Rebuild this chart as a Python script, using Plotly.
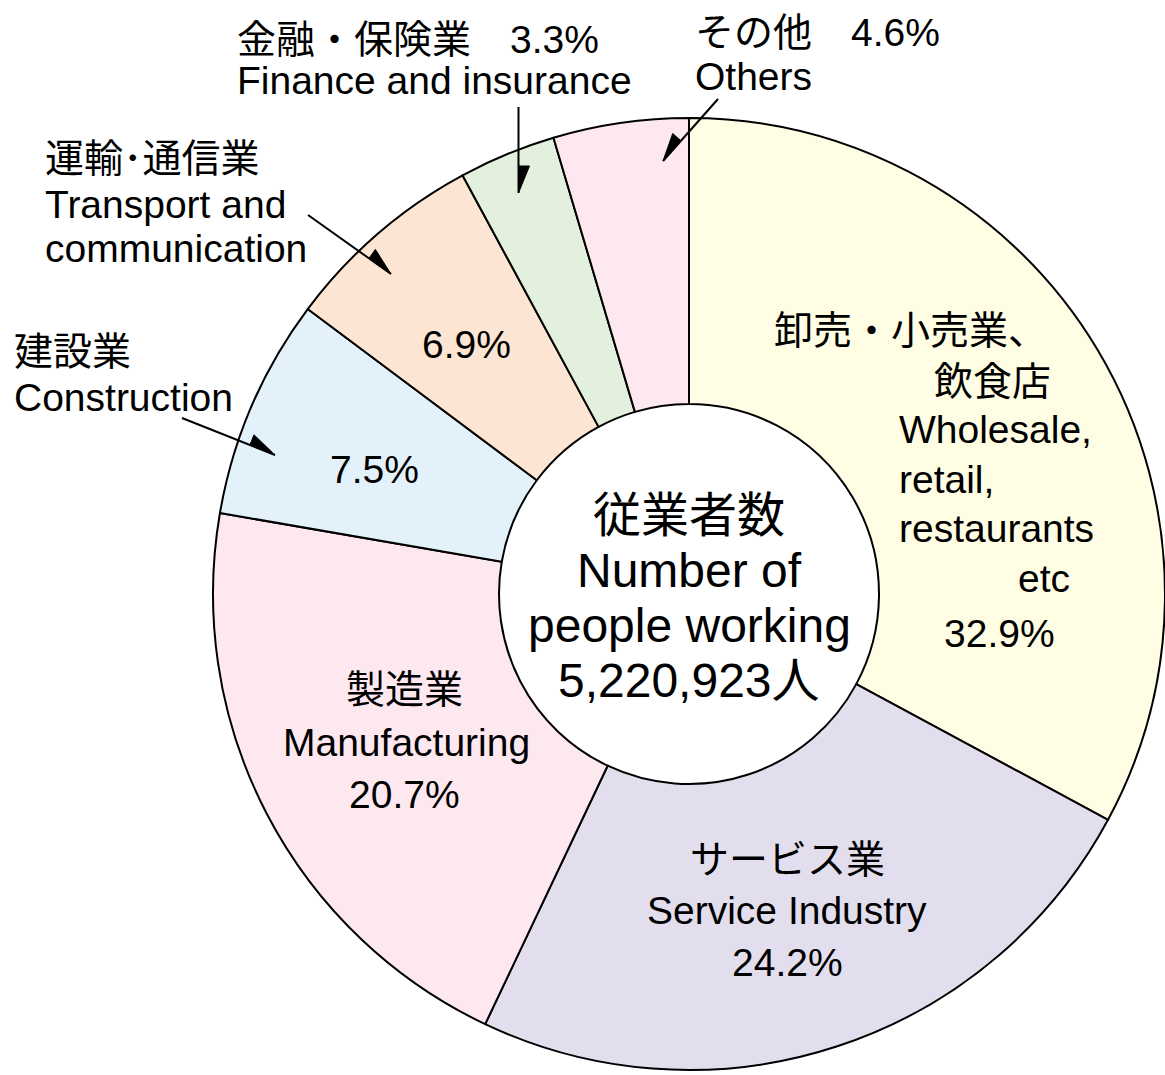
import math
import plotly.graph_objects as go

W, H = 1165, 1075

# ---- data ----
sectors_jp = ["卸売・小売業、飲食店", "サービス業", "製造業", "建設業", "運輸･通信業", "金融・保険業", "その他"]
sectors_en = ["Wholesale, retail, restaurants etc", "Service Industry", "Manufacturing",
              "Construction", "Transport and communication", "Finance and insurance", "Others"]
shares = [32.9, 24.2, 20.7, 7.5, 6.9, 3.3, 4.6]
colors = ["#FFFDE3", "#E3DEEE", "#FDE8F0", "#E3F1FB", "#FCE6D3", "#E3F0DE", "#FDE8F0"]
total_workers = "5,220,923"

FONT = "Liberation Sans, Arial, Noto Sans CJK JP, sans-serif"

# pie geometry (pixels)
CX, CY, R = 689, 594, 476
HOLE_R = 190

fig = go.Figure(go.Pie(
    labels=sectors_en, values=shares, sort=False, direction="clockwise", rotation=0,
    marker=dict(colors=colors, line=dict(color="black", width=2)),
    textinfo="none", hoverinfo="skip", hole=HOLE_R / R,
    domain=dict(x=[(CX - R) / W, min(1.0, (CX + R) / W)],
                y=[((H - CY) - R) / H, ((H - CY) + R) / H]),
))

def px(x):
    return x / W

def py(y):
    return 1 - y / H

pct = [f"{v:.1f}%" for v in shares]

# (text, x, y_middle, xanchor, size)
lines = [
    (f"{sectors_jp[5]}　{pct[5]}", 235, 39, "left", 39),
    (sectors_en[5], 235, 80.5, "left", 39),
    (f"{sectors_jp[6]}　{pct[6]}", 693, 33, "left", 39),
    (sectors_en[6], 693, 76.5, "left", 39),
    (sectors_jp[4], 43, 158, "left", 39),
    ("Transport and", 43, 204.5, "left", 39),
    ("communication", 43, 248.5, "left", 39),
    (sectors_jp[3], 12, 352, "left", 39),
    (sectors_en[3], 12, 397.5, "left", 39),
    (pct[4], 467, 344.5, "center", 39),
    (pct[3], 374, 469.5, "center", 39),
    ("卸売・小売業、", 772, 331, "left", 39),
    ("飲食店", 932, 381.5, "left", 39),
    ("Wholesale,", 897, 429.5, "left", 39),
    ("retail,", 897, 479.5, "left", 39),
    ("restaurants", 897, 528.5, "left", 39),
    ("etc", 1016, 578.5, "left", 39),
    (pct[0], 942, 633.5, "left", 39),
    (sectors_jp[2], 405, 689, "center", 39),
    (sectors_en[2], 406, 742.5, "center", 39),
    (pct[2], 405, 794.5, "center", 39),
    (sectors_jp[1], 787, 859, "center", 39),
    (sectors_en[1], 787, 910.5, "center", 39),
    (pct[1], 787, 962.5, "center", 39),
    ("従業者数", 689, 515, "center", 48),
    ("Number of", 689, 570, "center", 48),
    ("people working", 689, 625, "center", 48),
    (f"{total_workers}人", 689, 680, "center", 48),
]

annotations = []
for text, x, y, xa, size in lines:
    annotations.append(dict(
        text=text, x=px(x), y=py(y), xref="paper", yref="paper",
        xanchor=xa, yanchor="middle", showarrow=False,
        font=dict(family=FONT, size=size, color="black"),
    ))

# leader arrows: (start, tip, barb side)
arrows = [
    ((518.5, 107), (518.5, 193), 1),
    ((718, 99), (663, 161), -1),
    ((308, 215), (391, 274), 1),
    ((182, 418), (275, 455), 1),
]
shapes = []
for (x0, y0), (x1, y1), side in arrows:
    shapes.append(dict(type="line", xref="paper", yref="paper",
                       x0=px(x0), y0=py(y0), x1=px(x1), y1=py(y1),
                       line=dict(color="black", width=2)))
    L = math.hypot(x1 - x0, y1 - y0)
    dx, dy = (x1 - x0) / L, (y1 - y0) / L
    bx, by = x1 - 27 * dx, y1 - 27 * dy
    ox, oy = bx + side * 11 * dy, by - side * 11 * dx
    path = (f"M{px(x1)},{py(y1)} L{px(bx)},{py(by)} L{px(ox)},{py(oy)} Z")
    shapes.append(dict(type="path", xref="paper", yref="paper", path=path,
                       fillcolor="black", line=dict(color="black", width=1)))

fig.update_layout(
    width=W, height=H, margin=dict(l=0, r=0, t=0, b=0),
    paper_bgcolor="white", plot_bgcolor="white", showlegend=False,
    annotations=annotations, shapes=shapes,
)

fig.write_html("out.html", config={"displayModeBar": False},
               post_script="document.body.style.margin='0px';document.body.style.overflow='hidden';")
